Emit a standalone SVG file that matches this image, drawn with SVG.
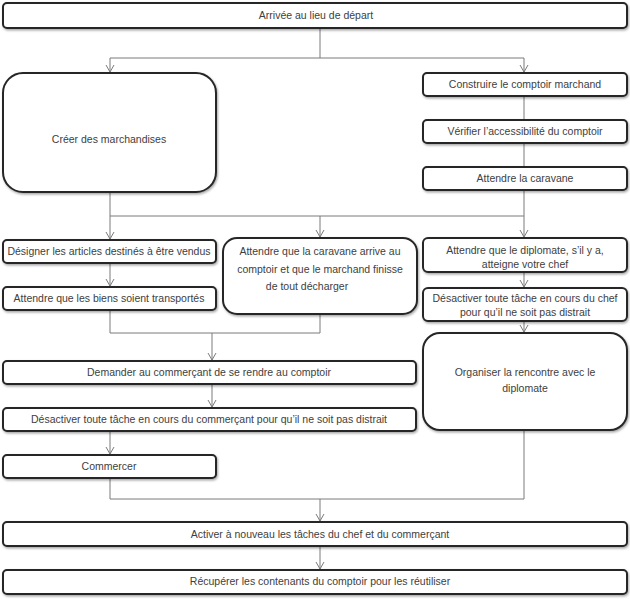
<svg xmlns="http://www.w3.org/2000/svg" width="630" height="600" viewBox="0 0 630 600">
<style>
.b{fill:#fff;stroke:#262626;stroke-width:2;filter:url(#sh)}
.t{font-family:"Liberation Sans",Arial,sans-serif;font-size:10.5px;fill:#404040;text-anchor:middle}
.c{fill:none;stroke:#7a7a7a;stroke-width:1}
</style>
<defs>
<filter id="sh" x="-5%" y="-20%" width="110%" height="150%">
<feDropShadow dx="1" dy="1.5" stdDeviation="1" flood-color="#000" flood-opacity="0.35"/>
</filter>
<marker id="d" markerWidth="10" markerHeight="10" refX="5" refY="8" orient="0" markerUnits="userSpaceOnUse" viewBox="0 0 10 10">
<path d="M1,1 L5,8 L9,1" fill="none" stroke="#7a7a7a" stroke-width="1"/>
</marker>
</defs>
<rect width="630" height="600" fill="#fff"/>
<g id="connectors">
<path class="c" d="M320,28 V58"/>
<path class="c" d="M110,58 H524"/>
<path class="c" d="M110,58 V72" marker-end="url(#d)"/>
<path class="c" d="M524,58 V72" marker-end="url(#d)"/>
<path class="c" d="M524,96 V120"/>
<path class="c" d="M524,143 V167"/>
<path class="c" d="M110,192 V216 M524,190 V216 M110,216 H524"/>
<path class="c" d="M110,216 V239" marker-end="url(#d)"/>
<path class="c" d="M320,216 V237" marker-end="url(#d)"/>
<path class="c" d="M524,216 V237" marker-end="url(#d)"/>
<path class="c" d="M110,263 V286" marker-end="url(#d)"/>
<path class="c" d="M524,272 V287" marker-end="url(#d)"/>
<path class="c" d="M524,321 V332" marker-end="url(#d)"/>
<path class="c" d="M110,310 V333 M320,314 V333 M110,333 H320"/>
<path class="c" d="M212,333 V360" marker-end="url(#d)"/>
<path class="c" d="M212,384 V407" marker-end="url(#d)"/>
<path class="c" d="M110,431 V454" marker-end="url(#d)"/>
<path class="c" d="M110,478 V499 M524,430 V499 M110,499 H524"/>
<path class="c" d="M320,499 V521" marker-end="url(#d)"/>
<path class="c" d="M320,546 V569" marker-end="url(#d)"/>
</g>
<g id="n1"><rect class="b" x="3" y="3" width="624" height="25" rx="4"/><text class="t" x="316" y="19">Arrivée au lieu de départ</text></g>
<g id="n2"><rect class="b" x="3" y="73" width="213" height="119" rx="20"/><text class="t" x="109" y="143">Créer des marchandises</text></g>
<g id="n3"><rect class="b" x="423" y="73" width="204" height="23" rx="4"/><text class="t" x="525" y="88">Construire le comptoir marchand</text></g>
<g id="n4"><rect class="b" x="423" y="120" width="204" height="23" rx="4"/><text class="t" x="525" y="135">Vérifier l’accessibilité du comptoir</text></g>
<g id="n5"><rect class="b" x="423" y="167" width="204" height="23" rx="4"/><text class="t" x="525" y="182">Attendre la caravane</text></g>
<g id="n6"><rect class="b" x="3" y="240" width="213" height="23" rx="4"/><text class="t" x="109" y="255">Désigner les articles destinés à être vendus</text></g>
<g id="n7"><rect class="b" x="3" y="287" width="213" height="23" rx="4"/><text class="t" x="109" y="302">Attendre que les biens soient transportés</text></g>
<g id="n8"><rect class="b" x="223" y="238" width="194" height="76" rx="14"/><text class="t" x="320" y="255">Attendre que la caravane arrive au</text><text class="t" x="320" y="273">comptoir et que le marchand finisse</text><text class="t" x="307" y="290">de tout décharger</text></g>
<g id="n9"><rect class="b" x="423" y="238" width="204" height="34" rx="5"/><text class="t" x="525" y="254">Attendre que le diplomate, s’il y a,</text><text class="t" x="525" y="268">atteigne votre chef</text></g>
<g id="n10"><rect class="b" x="423" y="288" width="204" height="33" rx="5"/><text class="t" x="525" y="302">Désactiver toute tâche en cours du chef</text><text class="t" x="525" y="316">pour qu’il ne soit pas distrait</text></g>
<g id="n11"><rect class="b" x="423" y="333" width="204" height="97" rx="17"/><text class="t" x="525" y="376">Organiser la rencontre avec le</text><text class="t" x="525" y="392">diplomate</text></g>
<g id="n12"><rect class="b" x="3" y="361" width="413" height="23" rx="4"/><text class="t" x="209" y="376">Demander au commerçant de se rendre au comptoir</text></g>
<g id="n13"><rect class="b" x="3" y="408" width="413" height="23" rx="4"/><text class="t" x="209" y="423">Désactiver toute tâche en cours du commerçant pour qu’il ne soit pas distrait</text></g>
<g id="n14"><rect class="b" x="3" y="455" width="213" height="23" rx="4"/><text class="t" x="109" y="470">Commercer</text></g>
<g id="n15"><rect class="b" x="3" y="522" width="624" height="24" rx="4"/><text class="t" x="320" y="538">Activer à nouveau les tâches du chef et du commerçant</text></g>
<g id="n16"><rect class="b" x="3" y="570" width="624" height="24" rx="4"/><text class="t" x="320" y="585">Récupérer les contenants du comptoir pour les réutiliser</text></g>
</svg>
